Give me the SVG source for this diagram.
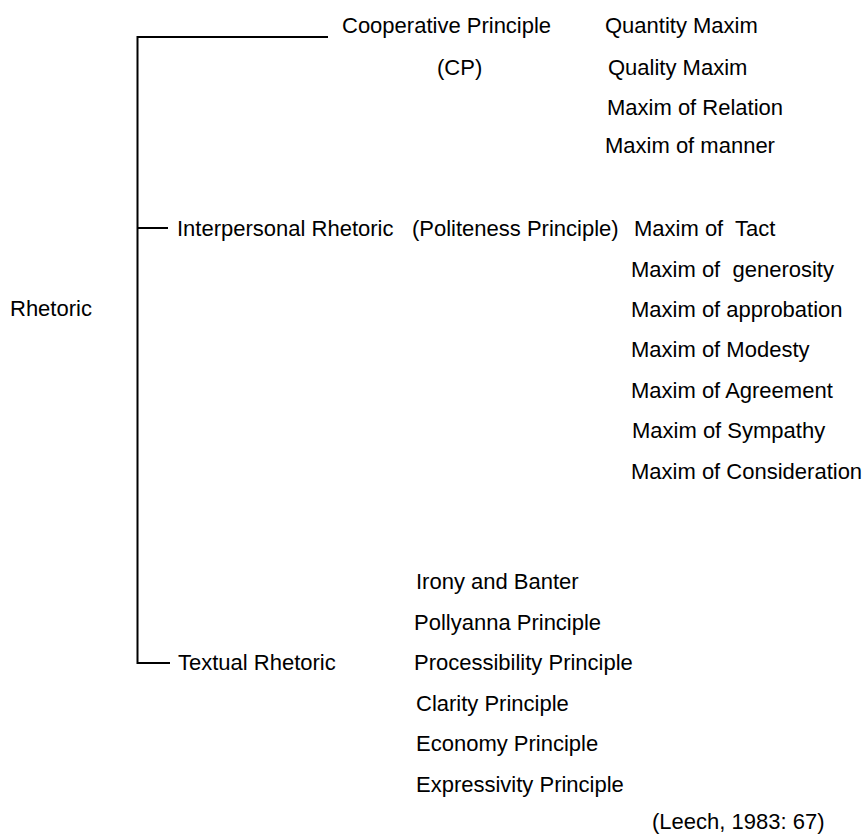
<svg xmlns="http://www.w3.org/2000/svg" width="867" height="835" viewBox="0 0 867 835">
<style>
text{font-family:"Liberation Sans",Arial,sans-serif;font-size:22px;fill:#000}
.c{stroke:#000;stroke-width:2;fill:none}
</style>
<rect width="867" height="835" fill="#fff"/>
<g id="connectors">
<path class="c" d="M328 37H137.5V663H170"/>
<path class="c" d="M137.5 228H168"/>
</g>
<g id="rhetoric"><text x="10" y="316">Rhetoric</text></g>
<g id="cp">
<text x="342" y="33">Cooperative Principle</text>
<text x="437" y="75">(CP)</text>
</g>
<g id="cp-maxims">
<text x="605" y="33">Quantity Maxim</text>
<text x="608" y="75">Quality Maxim</text>
<text x="607" y="115">Maxim of Relation</text>
<text x="605" y="153">Maxim of manner</text>
</g>
<g id="interpersonal">
<text x="177" y="236" xml:space="preserve">Interpersonal Rhetoric</text>
<text x="412" y="236">(Politeness Principle)</text>
</g>
<g id="pp-maxims">
<text x="634" y="236" xml:space="preserve">Maxim of  Tact</text>
<text x="631" y="277" xml:space="preserve">Maxim of  generosity</text>
<text x="631" y="317">Maxim of approbation</text>
<text x="631" y="357">Maxim of Modesty</text>
<text x="631" y="398">Maxim of Agreement</text>
<text x="632" y="438">Maxim of Sympathy</text>
<text x="631" y="479">Maxim of Consideration</text>
</g>
<g id="textual"><text x="178" y="670">Textual Rhetoric</text></g>
<g id="textual-principles">
<text x="416" y="589">Irony and Banter</text>
<text x="414" y="630">Pollyanna Principle</text>
<text x="414" y="670">Processibility Principle</text>
<text x="416" y="711">Clarity Principle</text>
<text x="416" y="751">Economy Principle</text>
<text x="416" y="792">Expressivity Principle</text>
</g>
<g id="source"><text x="652" y="829">(Leech, 1983: 67)</text></g>
</svg>
